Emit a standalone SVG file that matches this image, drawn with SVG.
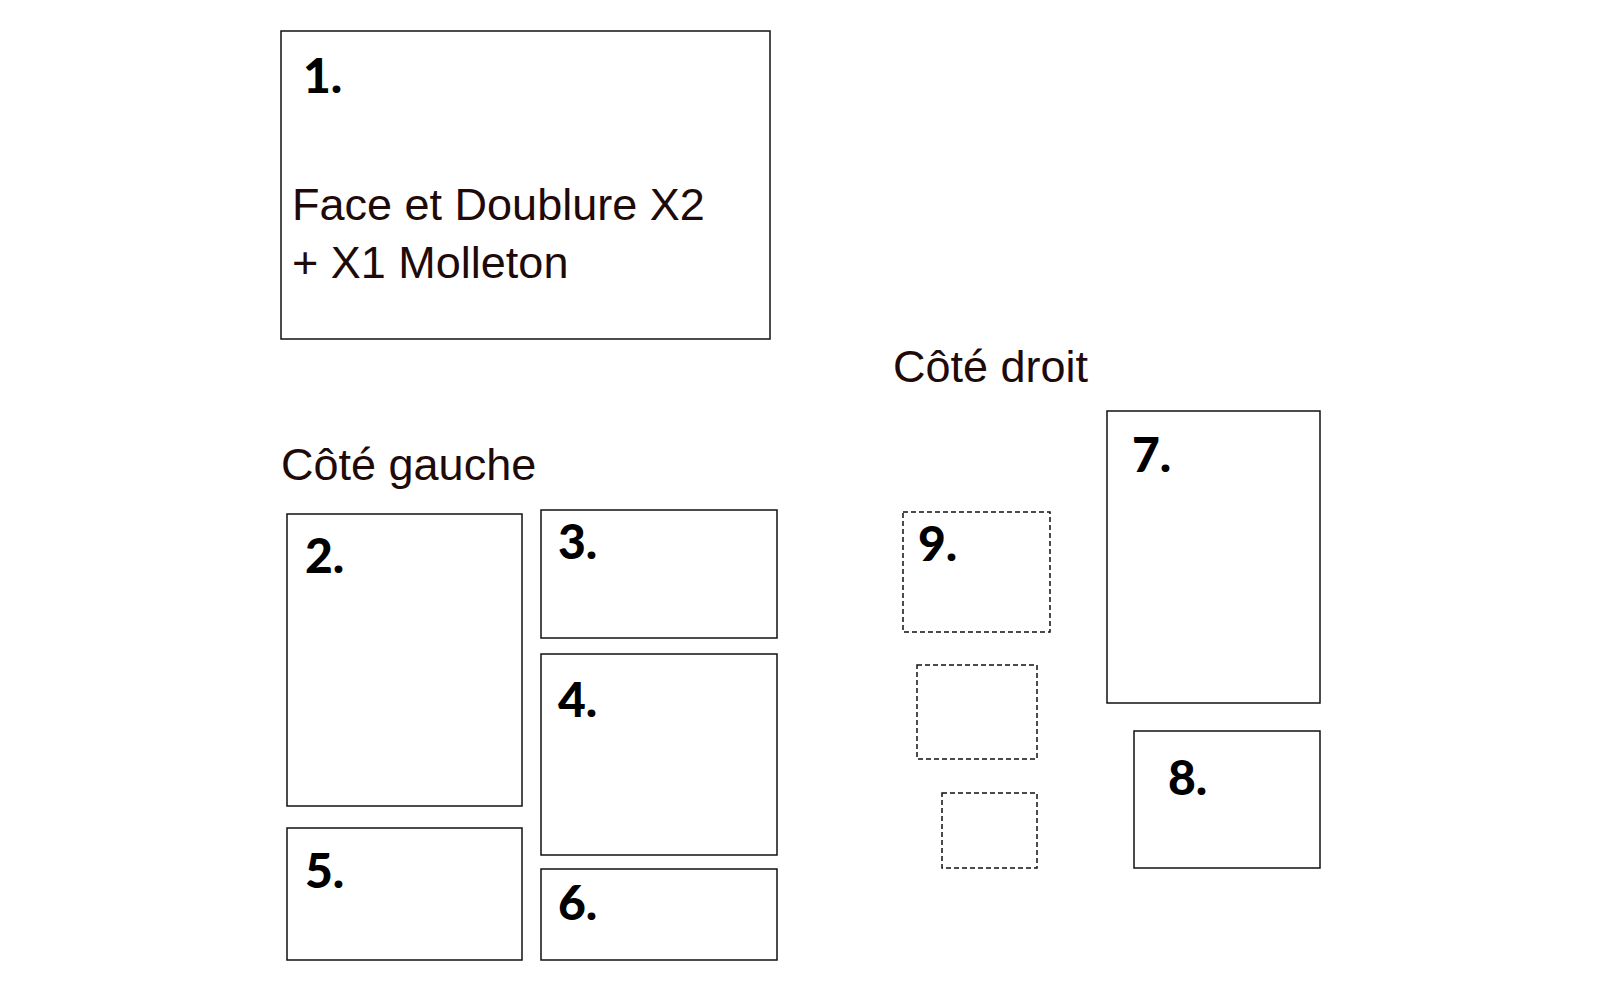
<svg xmlns="http://www.w3.org/2000/svg" width="1600" height="1000" viewBox="0 0 1600 1000">
<style>
.b{fill:#fff;stroke:#111;stroke-width:1.5}
.d{fill:#fff;stroke:#111;stroke-width:1.5;stroke-dasharray:5 3}
.n{font-family:Lato,"DejaVu Sans",sans-serif;font-weight:900;font-size:48px;fill:#000}
.t{font-family:"Liberation Sans",Arial,sans-serif;font-size:45px;fill:#1f0a0a}
</style>
<rect width="1600" height="1000" fill="#fff"/>
<g id="n1"><rect class="b" x="281" y="31" width="489" height="308"/><text class="n" x="303" y="93">1.</text><text class="t" x="292" y="220">Face et Doublure X2</text><text class="t" x="292" y="278">+ X1 Molleton</text></g>
<text class="t" x="281" y="480">Côté gauche</text>
<text class="t" x="893" y="382">Côté droit</text>
<g id="n2"><rect class="b" x="287" y="514" width="235" height="292"/><text class="n" x="305" y="573">2.</text></g>
<g id="n3"><rect class="b" x="541" y="510" width="236" height="128"/><text class="n" x="558" y="559">3.</text></g>
<g id="n4"><rect class="b" x="541" y="654" width="236" height="201"/><text class="n" x="558" y="717">4.</text></g>
<g id="n5"><rect class="b" x="287" y="828" width="235" height="132"/><text class="n" x="305" y="888">5.</text></g>
<g id="n6"><rect class="b" x="541" y="869" width="236" height="91"/><text class="n" x="558" y="920">6.</text></g>
<g id="n7"><rect class="b" x="1107" y="411" width="213" height="292"/><text class="n" x="1132" y="472">7.</text></g>
<g id="n8"><rect class="b" x="1134" y="731" width="186" height="137"/><text class="n" x="1168" y="795">8.</text></g>
<g id="n9"><rect class="d" x="903" y="512" width="147" height="120"/><text class="n" x="918" y="561">9.</text></g>
<g id="n10"><rect class="d" x="917" y="665" width="120" height="94"/></g>
<g id="n11"><rect class="d" x="942" y="793" width="95" height="75"/></g>
<g id="connectors"/>
</svg>
